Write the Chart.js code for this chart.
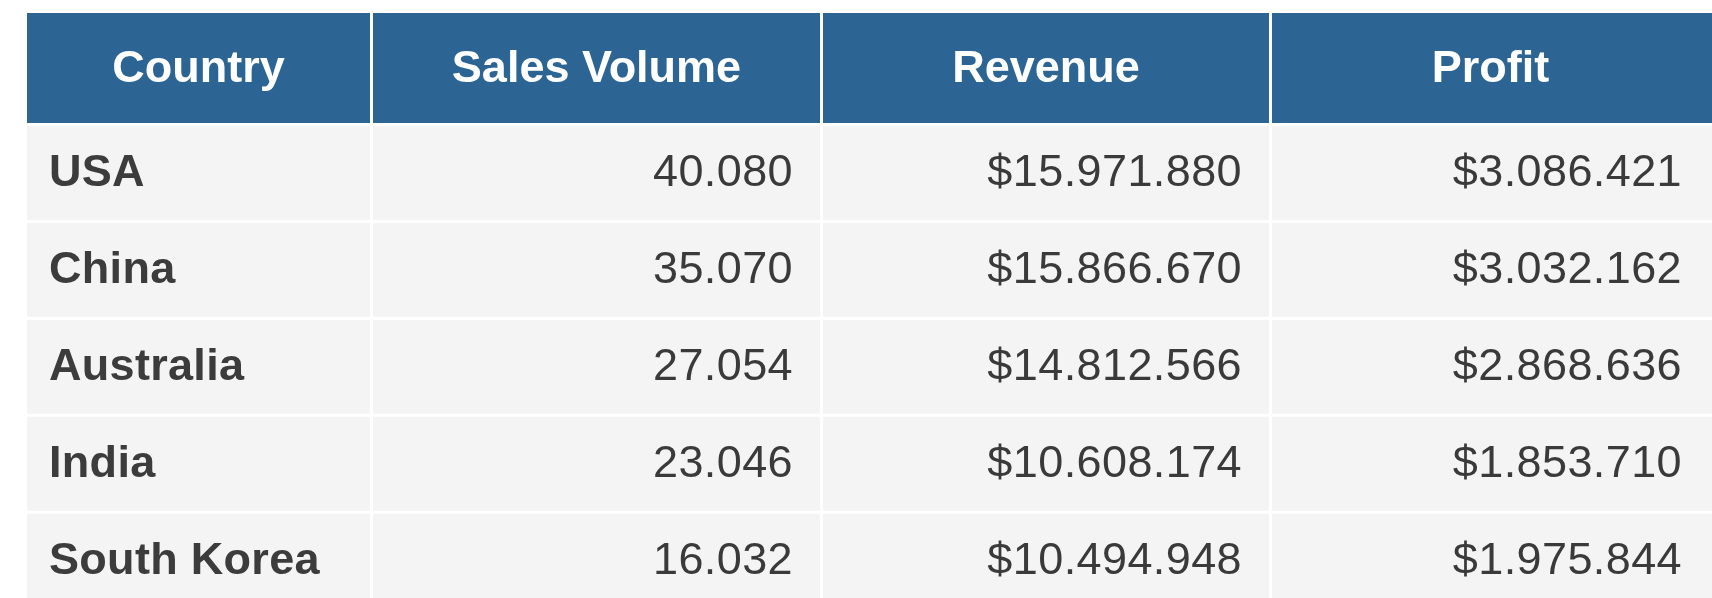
<!DOCTYPE html>
<html>
<head>
<meta charset="utf-8">
<script src="https://cdn.jsdelivr.net/npm/chart.js@4.4.1/dist/chart.umd.min.js"></script>
<style>
  html, body { margin: 0; padding: 0; background: #ffffff; }
  #wrap { width: 1712px; height: 598px; }
</style>
</head>
<body>
<div id="wrap"><canvas id="table"></canvas></div>
<script>
const headers = ['Country', 'Sales Volume', 'Revenue', 'Profit'];
const countries = ['USA', 'China', 'Australia', 'India', 'South Korea'];
const salesVolume = [40080, 35070, 27054, 23046, 16032];
const revenue = [15971880, 15866670, 14812566, 10608174, 10494948];
const profit = [3086421, 3032162, 2868636, 1853710, 1975844];

// layout (pixels)
const colWidths = [346, 450, 449, 440];
const headerTop = 13;
const headerHeight = 110;
const visibleRows = 4.9;
const gap = 3;

const colors = {
  header: '#2c6593',
  cell: '#f4f4f4',
  text: '#3a3a3a',
  countryText: '#3c3c3c',
  headerText: '#ffffff',
};

const fmt = (n) => String(n).replace(/\B(?=(\d{3})+(?!\d))/g, '.');
const money = (n) => '$' + fmt(n);

const columns = [
  { values: countries, align: 'left', font: 'bold 45px "Liberation Sans", Arial, sans-serif', color: colors.countryText, spacing: '0.3px' },
  { values: salesVolume.map(fmt), align: 'right', font: '45px "Liberation Sans", Arial, sans-serif', color: colors.text, spacing: '0.4px' },
  { values: revenue.map(money), align: 'right', font: '45px "Liberation Sans", Arial, sans-serif', color: colors.text, spacing: '0.4px' },
  { values: profit.map(money), align: 'right', font: '45px "Liberation Sans", Arial, sans-serif', color: colors.text, spacing: '0.4px' },
];

const tablePlugin = {
  id: 'tablePlugin',
  beforeDraw(chart) {
    const { ctx } = chart;
    const x = chart.scales.x;
    const y = chart.scales.y;
    const edges = [0];
    colWidths.forEach((w) => edges.push(edges[edges.length - 1] + w));

    ctx.save();
    ctx.fillStyle = '#ffffff';
    ctx.fillRect(0, 0, chart.width, chart.height);

    // header row
    const hTop = headerTop;
    const hBottom = chart.chartArea.top;
    headers.forEach((h, c) => {
      const left = x.getPixelForValue(edges[c]);
      const right = x.getPixelForValue(edges[c + 1]);
      ctx.fillStyle = colors.header;
      ctx.fillRect(left, hTop, right - left - (c < headers.length - 1 ? gap : 0), hBottom - hTop);
      ctx.fillStyle = colors.headerText;
      ctx.font = 'bold 45px "Liberation Sans", Arial, sans-serif';
      ctx.letterSpacing = '0px';
      ctx.textAlign = 'center';
      ctx.textBaseline = 'middle';
      ctx.fillText(h, (left + right - gap) / 2, (hTop + hBottom) / 2 + 2);
    });

    // body rows
    countries.forEach((_, r) => {
      const top = y.getPixelForValue(r);
      const bottom = y.getPixelForValue(r + 1);
      columns.forEach((col, c) => {
        const left = x.getPixelForValue(edges[c]);
        const right = x.getPixelForValue(edges[c + 1]);
        ctx.fillStyle = colors.cell;
        ctx.fillRect(left, top + gap, right - left - (c < columns.length - 1 ? gap : 0), bottom - top - gap);
        ctx.fillStyle = col.color;
        ctx.font = col.font;
        ctx.letterSpacing = col.spacing;
        ctx.textBaseline = 'middle';
        ctx.textAlign = col.align;
        const tx = col.align === 'left' ? left + 22 : right - 30;
        ctx.fillText(col.values[r], tx, (top + bottom) / 2 + 2);
      });
    });
    ctx.restore();
  },
};

new Chart(document.getElementById('table'), {
  type: 'scatter',
  data: { datasets: [] },
  options: {
    responsive: true,
    maintainAspectRatio: false,
    animation: false,
    layout: {
      padding: { left: 27, top: headerTop + headerHeight, right: 0, bottom: 0 },
    },
    plugins: {
      legend: { display: false },
      tooltip: { enabled: false },
    },
    scales: {
      x: {
        type: 'linear',
        display: false,
        min: 0,
        max: colWidths.reduce((a, b) => a + b, 0),
      },
      y: {
        type: 'linear',
        display: false,
        reverse: true,
        min: 0,
        max: visibleRows,
      },
    },
  },
  plugins: [tablePlugin],
});
</script>
</body>
</html>
